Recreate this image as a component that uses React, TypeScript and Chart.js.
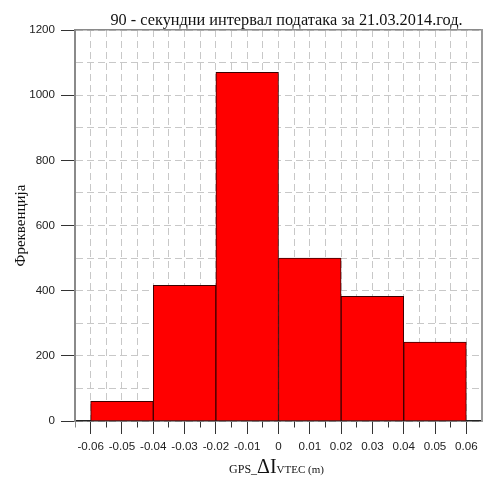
import React, { useEffect, useRef } from 'react';
import { Chart, registerables } from 'chart.js';

Chart.register(...registerables);

// Histogram bins (centres, width 0.02) and counts
const binCenters = [-0.05, -0.03, -0.01, 0.01, 0.03, 0.05];
const frequencies = [60, 416, 1070, 500, 383, 242];

const titleText = '90 - секундни интервал података за 21.03.2014.год.';
const yTitleText = 'Фреквенција';
const xTitleParts = ['GPS_', 'ΔI', 'VTEC', ' (m)'];

const X_MIN = -0.065;
const X_MAX = 0.065;
const Y_MIN = 0;
const Y_MAX = 1200;

const SERIF = "'Liberation Serif', 'Times New Roman', serif";
const SANS = "'Liberation Sans', Arial, sans-serif";

const textPlugin = {
  id: 'textPlugin',
  afterDraw(chart: any) {
    const { ctx, chartArea } = chart;
    const cx = (chartArea.left + chartArea.right) / 2;
    ctx.save();
    ctx.fillStyle = '#111';
    ctx.textBaseline = 'alphabetic';

    // main title
    ctx.font = `16.3px ${SERIF}`;
    ctx.textAlign = 'center';
    ctx.fillText(titleText, cx + 8, chartArea.top - 5);

    // x-axis title with mixed sizes
    ctx.textAlign = 'left';
    const fonts = [`12px ${SERIF}`, `20px ${SERIF}`, `11px ${SERIF}`, `11px ${SERIF}`];
    let total = 0;
    const widths: number[] = [];
    xTitleParts.forEach((p, i) => {
      ctx.font = fonts[i];
      const w = ctx.measureText(p).width;
      widths.push(w);
      total += w;
    });
    let x = cx - total / 2 - 2;
    const y = chartArea.bottom + 52;
    xTitleParts.forEach((p, i) => {
      ctx.font = fonts[i];
      ctx.fillText(p, x, y);
      x += widths[i];
    });
    ctx.restore();
  },
};

function isMultiple(v: number, step: number) {
  const r = v / step;
  return Math.abs(r - Math.round(r)) < 1e-6;
}

export default function App() {
  const canvasRef = useRef<HTMLCanvasElement | null>(null);

  useEffect(() => {
    const canvas = canvasRef.current;
    if (!canvas) return;
    const chart = new Chart(canvas, {
      type: 'bar',
      data: {
        datasets: [
          {
            data: binCenters.map((c, i) => ({ x: c, y: frequencies[i] })),
            backgroundColor: '#ff0000',
            borderColor: '#3a0000',
            borderWidth: 1,
            barPercentage: 1,
            categoryPercentage: 1,
            xAxisID: 'xBar',
            yAxisID: 'y',
          },
        ],
      },
      options: {
        animation: false,
        responsive: false,
        layout: { padding: { top: 30, left: 0, right: 0, bottom: 0 } },
        plugins: {
          legend: { display: false },
          tooltip: { enabled: false },
          title: { display: false },
        },
        scales: {
          xBar: {
            type: 'linear',
            position: 'bottom',
            display: true,
            offset: false,
            min: X_MIN,
            max: X_MAX,
            afterFit: (s: any) => {
              s.height = 0;
              s.paddingLeft = 0;
              s.paddingRight = 0;
            },
            ticks: { display: false, stepSize: 0.02, includeBounds: false },
            grid: { display: false, drawTicks: false, offset: false },
            border: { display: false },
          },
          x: {
            type: 'linear',
            position: 'bottom',
            offset: false,
            min: X_MIN,
            max: X_MAX,
            afterFit: (s: any) => {
              s.height = 58;
              s.paddingLeft = 0;
              s.paddingRight = 0;
            },
            ticks: {
              stepSize: 0.005,
              autoSkip: false,
              maxRotation: 0,
              minRotation: 0,
              padding: 6,
              color: '#222',
              font: { family: SANS, size: 11.6 },
              callback: (value: any) => {
                const v = Number(value);
                const n = Math.round(v * 1000);
                if (n % 10 !== 0 || Math.abs(n) > 60) return '';
                return n === 0 ? '0' : (n / 1000).toFixed(2);
              },
            },
            grid: {
              display: true,
              offset: false,
              drawOnChartArea: true,
              drawTicks: true,
              tickLength: 13,
              color: '#c8c8c8',
              lineWidth: 1,
              tickWidth: 1,
              tickColor: (ctx: any) => {
                const v = ctx.tick ? ctx.tick.value : 0;
                if (v < -0.0625) return '#8a8a8a';
                return v > 0.0625 ? 'rgba(0,0,0,0)' : '#333';
              },
              tickBorderDash: (ctx: any) => {
                const v = ctx.tick ? ctx.tick.value : 0;
                return isMultiple(v, 0.01) ? [] : [6, 40];
              },
            },
            border: {
              display: true,
              color: '#222',
              width: 1.5,
              dash: [7, 4],
            },
          },
          xTop: {
            type: 'linear',
            position: 'top',
            offset: false,
            min: X_MIN,
            max: X_MAX,
            afterFit: (s: any) => {
              s.height = 0;
              s.paddingLeft = 0;
              s.paddingRight = 0;
            },
            ticks: { display: false },
            grid: { display: false, drawTicks: false, offset: false },
            border: { display: true, color: '#8a8a8a', width: 1.5 },
          },
          y: {
            type: 'linear',
            position: 'left',
            min: Y_MIN,
            max: Y_MAX,
            afterFit: (s: any) => {
              s.width = 75;
            },
            title: {
              display: true,
              text: yTitleText,
              color: '#111',
              font: { family: SERIF, size: 15, weight: 'normal' },
              padding: { top: 12, bottom: 0 },
            },
            ticks: {
              stepSize: 100,
              autoSkip: false,
              padding: 6,
              color: '#222',
              font: { family: SANS, size: 11.6 },
              callback: (value: any) => {
                const v = Number(value);
                return isMultiple(v, 200) ? String(Math.round(v)) : '';
              },
            },
            grid: {
              display: true,
              drawOnChartArea: true,
              drawTicks: true,
              tickLength: 14,
              color: '#c8c8c8',
              lineWidth: 1,
              tickWidth: 1,
              tickColor: (ctx: any) => {
                const v = ctx.tick ? ctx.tick.value : 0;
                return isMultiple(v, 200) ? '#333' : 'rgba(0,0,0,0)';
              },
            },
            border: {
              display: true,
              color: '#8a8a8a',
              width: 2,
              dash: [7, 4],
            },
          },
          yRight: {
            type: 'linear',
            position: 'right',
            min: Y_MIN,
            max: Y_MAX,
            afterFit: (s: any) => {
              s.width = 2;
            },
            ticks: { display: false },
            grid: { display: false, drawTicks: false },
            border: { display: true, color: '#9a9a9a', width: 2 },
          },
        },
      } as any,
      plugins: [textPlugin],
    });
    return () => chart.destroy();
  }, []);

  return (
    <div style={{ position: 'fixed', left: 0, top: 0, width: 484, height: 479, background: '#fff' }}>
      <canvas ref={canvasRef} width={484} height={479} style={{ width: 484, height: 479, display: 'block' }} />
    </div>
  );
}
